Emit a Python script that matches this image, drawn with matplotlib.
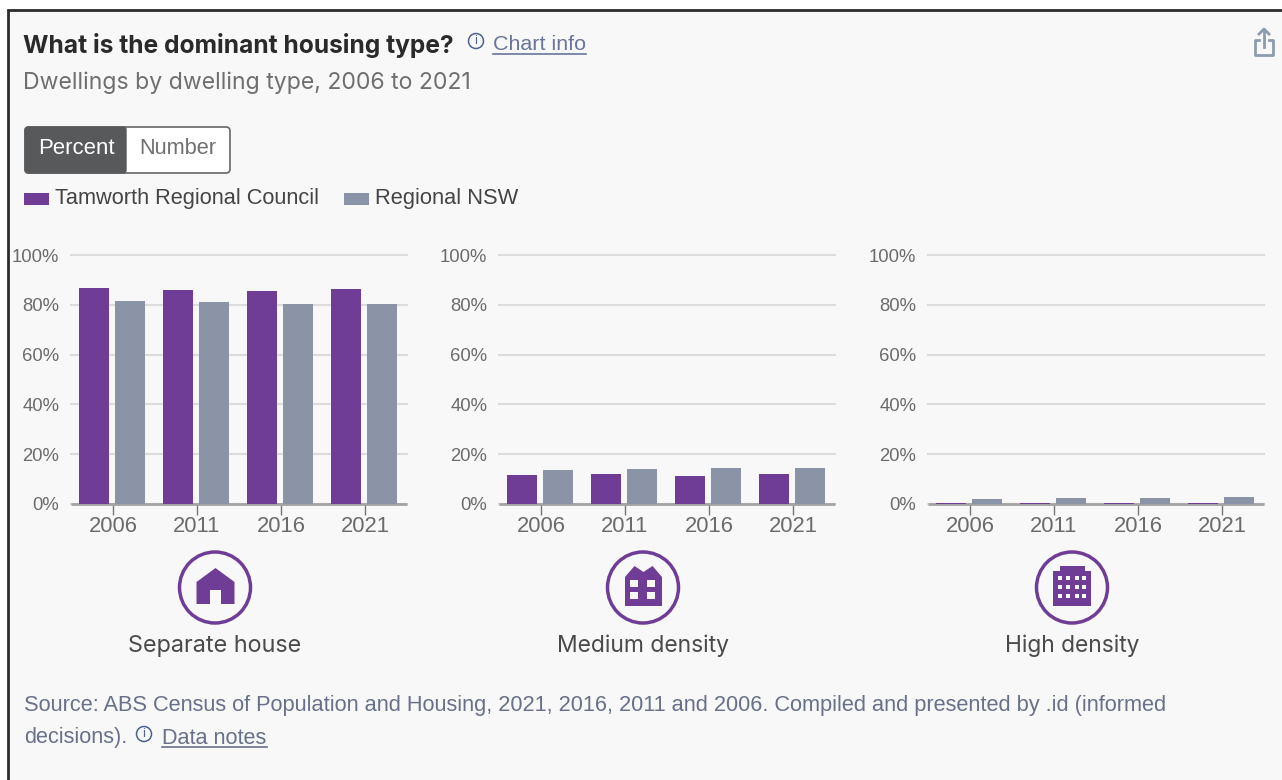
import matplotlib
matplotlib.use("Agg")
import matplotlib.pyplot as plt
from matplotlib.patches import Rectangle, Circle, Polygon, FancyBboxPatch

plt.rcParams['font.family'] = ['Liberation Sans', 'DejaVu Sans']

W, H = 1282, 780
years = ['2006', '2011', '2016', '2021']
panels = ['Separate house', 'Medium density', 'High density']
tamworth = [[86.7, 86.1, 85.5, 86.5], [11.6, 12.2, 11.3, 11.9], [0.5, 0.5, 0.4, 0.4]]
regional = [[81.5, 81.3, 80.3, 80.3], [13.6, 14.0, 14.3, 14.6], [2.2, 2.3, 2.6, 2.9]]
yticks = [0, 20, 40, 60, 80, 100]

PURPLE = '#6f3c96'
GREY = '#8a94a6'
BG = '#f8f8f8'
TICKC = '#6b6b6b'
TXT = '#555555'
SRC = '#68708a'

fig = plt.figure(figsize=(W / 100, H / 100), dpi=100, facecolor='white')
bg = fig.add_axes([0, 0, 1, 1], zorder=0)
bg.set_xlim(0, W)
bg.set_ylim(H, 0)
bg.axis('off')
bg.add_patch(Rectangle((7.5, 9.5), W + 10, H + 10, fc=BG, ec='#2b2b2b', lw=2))
renderer = fig.canvas.get_renderer()

def px(size):
    return size * 0.72

def T(x, y, s, size, color=TXT, fit=None, **kw):
    kw.setdefault('va', 'center')
    t = bg.text(x, y, s, fontsize=px(size), color=color, **kw)
    if fit:
        w = t.get_window_extent(renderer).width
        t.set_fontsize(t.get_fontsize() * fit / w)
    return t

T(23, 45, 'What is the dominant housing type?', 21, '#2a2a2a', fit=431, fontweight='bold', family='Inter')
T(493, 45, 'Chart info', 21.5, '#68749a', fit=93)
bg.plot([493, 586], [54, 54], color='#68749a', lw=1.2)
T(23, 82.5, 'Dwellings by dwelling type, 2006 to 2021', 22, '#6f6f6f', fit=448, family='Inter')

def info(x, y, c='#4c628f'):
    bg.add_patch(Circle((x, y), 7.5, fc='none', ec=c, lw=1.1))
    bg.text(x, y, 'i', fontsize=px(13), color=c, ha='center', va='center')
info(476, 41)
info(144, 734)

# toggle
bg.add_patch(FancyBboxPatch((25, 127), 205, 46, boxstyle='round,pad=0,rounding_size=4',
                            fc='white', ec='#666666', lw=1.2))
bg.add_patch(FancyBboxPatch((25, 127), 101, 46, boxstyle='round,pad=0,rounding_size=3',
                            fc='#58595b', ec='#58595b', lw=1))
T(76, 149, 'Percent', 22, 'white', fit=76, ha='center')
T(178, 149, 'Number', 22, '#6f6f6f', fit=77, ha='center')

# legend
bg.add_patch(Rectangle((24, 193), 25, 12, fc=PURPLE, ec='none'))
T(55, 198.5, 'Tamworth Regional Council', 22, '#444444', fit=264)
bg.add_patch(Rectangle((344, 193), 25, 12, fc=GREY, ec='none'))
T(375, 198.5, 'Regional NSW', 22, '#444444', fit=143)

# share icon
sc = '#8d9bb0'
bg.plot([1259, 1255, 1255, 1273, 1273, 1269], [40, 40, 55, 55, 40, 40], color=sc, lw=2)
bg.plot([1264, 1264], [30, 47], color=sc, lw=2)
bg.plot([1259, 1264, 1269], [34, 29, 34], color=sc, lw=2)

lefts = [71, 499, 928]
AW, TOP, BOT = 336, 255, 504
BW = 30 / 84
label_widths = [174, 173, 135]
for i, (L, name) in enumerate(zip(lefts, panels)):
    ax = fig.add_axes([L / W, 1 - BOT / H, AW / W, (BOT - TOP) / H], zorder=1)
    ax.patch.set_alpha(0)
    xs = range(len(years))
    ax.bar([x - 18.6 / 84 for x in xs], tamworth[i], BW, color=PURPLE, zorder=3)
    ax.bar([x + 17 / 84 for x in xs], regional[i], BW, color=GREY, zorder=3)
    ax.set_xlim(-0.5, 3.5)
    ax.set_ylim(0, 100)
    ax.set_yticks(yticks, [f'{v}%' for v in yticks])
    ax.set_xticks(list(xs), years)
    ax.grid(axis='y', color='#dcdcdc', lw=1.5, zorder=0, clip_on=False)
    ax.set_axisbelow(True)
    for s in ('top', 'left', 'right'):
        ax.spines[s].set_visible(False)
    ax.spines['bottom'].set_color('#a3a3a3')
    ax.spines['bottom'].set_linewidth(2)
    ax.spines['bottom'].set_capstyle('butt')
    ax.spines['bottom'].set_zorder(2.5)
    ax.tick_params(axis='y', length=0, pad=8.5, labelsize=px(18.5), labelcolor=TICKC)
    ax.tick_params(axis='x', length=8, width=1, color='#777777', pad=1, labelsize=px(22), labelcolor=TICKC)

    cx = L + 144
    bg.add_patch(Circle((cx, 587.5), 35.5, fc='none', ec=PURPLE, lw=2.5))
    T(cx, 646, name, 22, '#4a4a4a', fit=label_widths[i], ha='center', family='Inter')

# house
cx = 215.5
bg.add_patch(Polygon([(cx-19, 604), (cx-19, 582), (cx, 568), (cx+19, 582), (cx+19, 604),
                      (cx+5.5, 604), (cx+5.5, 590), (cx-5.5, 590), (cx-5.5, 604)], fc=PURPLE, ec='none'))
# medium density
cx = 643.5
bg.add_patch(Polygon([(cx-18.5, 606), (cx-18.5, 577), (cx-9, 566), (cx, 572), (cx+9, 566),
                      (cx+18.5, 577), (cx+18.5, 606)], fc=PURPLE, ec='none'))
for wx in (630, 647):
    for wy in (580, 592):
        bg.add_patch(Rectangle((wx, wy), 7.5, 7, fc=BG, ec='none'))
# high density
bg.add_patch(Rectangle((1053, 571), 38, 35, fc=PURPLE, ec='none'))
bg.add_patch(Rectangle((1060, 566), 25, 6, fc=PURPLE, ec='none'))
for wx in (1060, 1068, 1077, 1084):
    for wy in (578, 587, 596):
        bg.add_patch(Rectangle((wx - 2, wy - 2), 4, 4, fc=BG, ec='none'))

T(24, 705, 'Source: ABS Census of Population and Housing, 2021, 2016, 2011 and 2006. Compiled and presented by .id (informed', 21.7, SRC, fit=1146)
T(24, 738, 'decisions).', 21.7, SRC)
T(162, 738, 'Data notes', 21.7, SRC)
bg.plot([162, 267], [747, 747], color=SRC, lw=1.2)

fig.savefig('out.png', dpi=100, facecolor='white')
